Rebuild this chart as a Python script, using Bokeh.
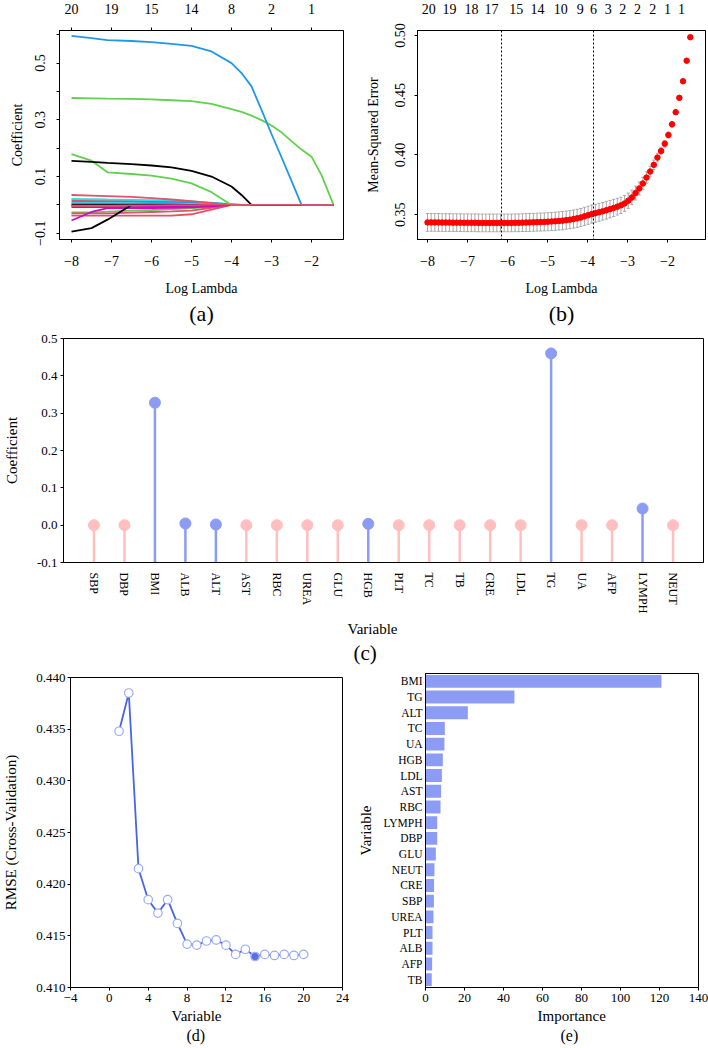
import math
import numpy as np
from bokeh.plotting import figure
from bokeh.models import (Range1d, FactorRange, LinearAxis, FixedTicker,
                          NumeralTickFormatter, Title, Span)
from bokeh.layouts import column, row
from bokeh.embed import file_html
from bokeh.resources import INLINE

FONT = "Liberation Serif"

# ---------------- (a) LASSO coefficient paths ----------------
path_loglam = [-8, -7.5, -7.1, -6.5, -6, -5.5, -5, -4.5, -4, -3.75, -3.5, -3.25,
               -3, -2.75, -2.5, -2.25, -2, -1.75, -1.45]
path_blue_1 = [0.596, 0.588, 0.581, 0.578, 0.574, 0.568, 0.561, 0.541, 0.500, 0.465,
               0.418, 0.335, 0.250, 0.168, 0.085, 0.0, 0.0, 0.0, 0.0]
path_green_1 = [0.377, 0.376, 0.375, 0.374, 0.372, 0.369, 0.366, 0.356, 0.338, 0.328,
                0.315, 0.299, 0.280, 0.256, 0.225, 0.195, 0.170, 0.105, 0.0]
path_green_2 = [0.179, 0.156, 0.115, 0.109, 0.103, 0.093, 0.076, 0.045, 0.0, 0.0,
                0.0, 0.0, 0.0, 0.0, 0.0, 0.0, 0.0, 0.0, 0.0]
path_black_1 = [0.155, 0.152, 0.148, 0.144, 0.139, 0.132, 0.120, 0.100, 0.065, 0.035,
                0.0, 0.0, 0.0, 0.0, 0.0, 0.0, 0.0, 0.0, 0.0]
path_black_2 = [-0.094, -0.082, -0.052, 0.0, 0.0, 0.0, 0.0, 0.0, 0.0, 0.0,
                0.0, 0.0, 0.0, 0.0, 0.0, 0.0, 0.0, 0.0, 0.0]
path_magenta_1 = [-0.055, -0.025, -0.011, -0.011, -0.011, -0.010, -0.009, -0.005, 0.0, 0.0,
                  0.0, 0.0, 0.0, 0.0, 0.0, 0.0, 0.0, 0.0, 0.0]
path_red_1 = [0.035, 0.033, 0.031, 0.028, 0.024, 0.019, 0.013, 0.006, 0.0, 0.0,
              0.0, 0.0, 0.0, 0.0, 0.0, 0.0, 0.0, 0.0, 0.0]
path_red_2 = [-0.030, -0.030, -0.030, -0.027, -0.025, -0.023, -0.020, -0.010, 0.0, 0.0,
              0.0, 0.0, 0.0, 0.0, 0.0, 0.0, 0.0, 0.0, 0.0]
path_red_3 = [-0.038, -0.038, -0.038, -0.038, -0.038, -0.038, -0.033, -0.017, 0.0, 0.0,
              0.0, 0.0, 0.0, 0.0, 0.0, 0.0, 0.0, 0.0, 0.0]
path_red_4 = [0.017, 0.016, 0.015, 0.014, 0.012, 0.010, 0.007, 0.004, 0.0, 0.0,
              0.0, 0.0, 0.0, 0.0, 0.0, 0.0, 0.0, 0.0, 0.0]
path_cyan_1 = [0.021, 0.020, 0.019, 0.018, 0.017, 0.015, 0.012, 0.008, 0.003, 0.0,
               0.0, 0.0, 0.0, 0.0, 0.0, 0.0, 0.0, 0.0, 0.0]
path_blue_2 = [0.011, 0.011, 0.011, 0.011, 0.010, 0.010, 0.009, 0.006, 0.002, 0.0,
               0.0, 0.0, 0.0, 0.0, 0.0, 0.0, 0.0, 0.0, 0.0]
path_cyan_2 = [0.005, 0.005, 0.005, 0.005, 0.004, 0.004, 0.003, 0.002, 0.0, 0.0,
               0.0, 0.0, 0.0, 0.0, 0.0, 0.0, 0.0, 0.0, 0.0]
path_green_3 = [-0.026, -0.026, -0.024, -0.020, -0.018, -0.015, -0.012, -0.006, 0.0, 0.0,
                0.0, 0.0, 0.0, 0.0, 0.0, 0.0, 0.0, 0.0, 0.0]
path_magenta_2 = [-0.008, -0.008, -0.008, -0.008, -0.007, -0.006, -0.004, -0.002, 0.0, 0.0,
                  0.0, 0.0, 0.0, 0.0, 0.0, 0.0, 0.0, 0.0, 0.0]
path_black_3 = [0.001, 0.001, 0.001, 0.001, 0.001, 0.001, 0.0, 0.0, 0.0, 0.0,
                0.0, 0.0, 0.0, 0.0, 0.0, 0.0, 0.0, 0.0, 0.0]
path_gray_1 = [-0.004, -0.004, -0.004, -0.003, -0.003, -0.002, -0.002, -0.001, 0.0, 0.0,
               0.0, 0.0, 0.0, 0.0, 0.0, 0.0, 0.0, 0.0, 0.0]
path_red_0 = [-0.003, -0.003, -0.003, -0.002, -0.002, -0.001, -0.001, 0.0, 0.0, 0.0,
              0.0, 0.0, 0.0, 0.0, 0.0, 0.0, 0.0, 0.0, 0.0]
a_top_ticks = [-8, -7, -6, -5, -4, -3, -2]
a_top_labels = ["20", "19", "15", "14", "8", "2", "1"]

R_BLACK, R_RED, R_GREEN, R_BLUE = "#000000", "#DF536B", "#61D04F", "#2297E6"
R_CYAN, R_MAGENTA, R_GRAY = "#28E2E5", "#CD0BBC", "#9E9E9E"

# ---------------- (b) cross-validation curve ----------------
cv_loglam_first = -8.0
cv_loglam_last = -1.43
cv_mse = [0.3435, 0.3435, 0.3435, 0.3435, 0.3434, 0.3434, 0.3434, 0.3433, 0.3433, 0.3433,
          0.3432, 0.3432, 0.3432, 0.3432, 0.3431, 0.3431, 0.3431, 0.3431, 0.3431, 0.3431,
          0.3431, 0.3431, 0.3431, 0.3431, 0.3432, 0.3432, 0.3433, 0.3434, 0.3435, 0.3436,
          0.3437, 0.3438, 0.3439, 0.3441, 0.3443, 0.3445, 0.3447, 0.3450, 0.3454, 0.3458,
          0.3463, 0.3469, 0.3476, 0.3486, 0.3495, 0.3505, 0.3512, 0.3520, 0.3528, 0.3537,
          0.3546, 0.3556, 0.3567, 0.3578, 0.3594, 0.3617, 0.3644, 0.3681, 0.3719, 0.3761,
          0.3811, 0.3861, 0.3917, 0.3978, 0.4033, 0.4094, 0.4167, 0.4256, 0.4358, 0.4478,
          0.4617, 0.4789, 0.4986]
cv_se = [0.0074, 0.0074, 0.0074, 0.0074, 0.0074, 0.0074, 0.0074, 0.0074, 0.0074, 0.0074,
         0.0074, 0.0074, 0.0074, 0.0074, 0.0074, 0.0074, 0.0074, 0.0074, 0.0074, 0.0074,
         0.0074, 0.0074, 0.0074, 0.0074, 0.0074, 0.0074, 0.0074, 0.0075, 0.0075, 0.0075,
         0.0075, 0.0075, 0.0075, 0.0076, 0.0076, 0.0076, 0.0076, 0.0076, 0.0076, 0.0076,
         0.0076, 0.0076, 0.0076, 0.0076, 0.0076, 0.0076, 0.0075, 0.0075, 0.0074, 0.0074,
         0.0073, 0.0072, 0.0070, 0.0068, 0.0066, 0.0064, 0.0061, 0.0058, 0.0055, 0.0052,
         0.0048, 0.0044, 0.0040, 0.0036, 0.0032, 0.0028, 0.0025, 0.0022, 0.0019, 0.0016,
         0.0013, 0.0011, 0.0009]
lambda_min_log = -6.15
lambda_1se_log = -3.85
b_top_ticks = [-7.97, -7.45, -6.9, -6.4, -5.78, -5.25, -4.67, -4.18, -3.85, -3.48,
               -3.12, -2.75, -2.37, -2.0, -1.65]
b_top_labels = ["20", "19", "18", "17", "15", "14", "10", "9", "6", "3",
                "2", "2", "2", "1", "1"]

# ---------------- (c) lollipop of coefficients ----------------
coef_vars = ["SBP", "DBP", "BMI", "ALB", "ALT", "AST", "RBC", "UREA", "GLU", "HGB",
             "PLT", "TC", "TB", "CRE", "LDL", "TG", "UA", "AFP", "LYMPH", "NEUT"]
coef_vals = [0.0, 0.0, 0.328, 0.0045, 0.0018, 0.0, 0.0, 0.0, 0.0, 0.0036,
             0.0, 0.0, 0.0, 0.0, 0.0, 0.46, 0.0, 0.0, 0.0446, 0.0]

# ---------------- (d) RFE RMSE ----------------
rfe_nvars = [1, 2, 3, 4, 5, 6, 7, 8, 9, 10, 11, 12, 13, 14, 15, 16, 17, 18, 19, 20]
rfe_rmse = [0.4348, 0.4385, 0.4215, 0.4185, 0.4172, 0.4185, 0.4162, 0.4142, 0.4141, 0.4145,
            0.4146, 0.4141, 0.4132, 0.4137, 0.4130, 0.4132, 0.4131, 0.4132, 0.4131, 0.4132]
rfe_best = 15

# ---------------- (e) variable importance ----------------
imp_vars = ["BMI", "TG", "ALT", "TC", "UA", "HGB", "LDL", "AST", "RBC", "LYMPH",
            "DBP", "GLU", "NEUT", "CRE", "SBP", "UREA", "PLT", "ALB", "AFP", "TB"]
imp_vals = [121.0, 45.6, 21.7, 9.9, 9.7, 8.9, 8.4, 8.0, 7.7, 6.0,
            6.0, 5.3, 4.6, 4.4, 4.3, 4.1, 3.6, 3.6, 3.4, 3.2]

SEL_BLUE = "#8C9CF5"
PINK = "#FFBFBF"


def style(p, tick_size):
    p.outline_line_color = "black"
    p.outline_line_width = 1
    p.outline_line_alpha = 1
    p.xgrid.visible = False
    p.ygrid.visible = False
    p.background_fill_color = "white"
    p.border_fill_color = "white"
    for ax in p.axis:
        ax.major_label_text_font = FONT
        ax.major_label_text_font_size = tick_size
        ax.major_label_text_color = "black"
        ax.axis_label_text_font = FONT
        ax.axis_label_text_font_style = "normal"
        ax.axis_label_text_color = "black"
        ax.minor_tick_line_color = None
        ax.major_tick_in = 0
        ax.major_tick_out = 3
        ax.major_tick_line_color = "black"
        ax.axis_line_color = "black"


def caption(p, text, size, standoff=2, align="center", offset=0):
    t = Title(text=text, align=align, offset=offset, standoff=standoff,
              text_font=FONT, text_font_size=size, text_font_style="normal",
              text_color="black")
    p.add_layout(t, "below")


# ================= panel (a) =================
pa = figure(width=354, height=331, x_range=Range1d(-8.3, -1.2), y_range=Range1d(-0.122, 0.615),
            output_backend="svg", toolbar_location=None,
            min_border_left=59, min_border_right=11, min_border_top=29, min_border_bottom=92)
a_paths = [(path_red_4, R_RED), (path_cyan_1, R_CYAN), (path_blue_2, R_BLUE),
           (path_cyan_2, R_CYAN), (path_gray_1, R_GRAY), (path_black_3, R_BLACK),
           (path_green_3, R_GREEN), (path_magenta_2, R_MAGENTA), (path_red_2, R_RED),
           (path_red_3, R_RED), (path_red_1, R_RED), (path_magenta_1, R_MAGENTA),
           (path_black_2, R_BLACK), (path_green_2, R_GREEN), (path_black_1, R_BLACK),
           (path_green_1, R_GREEN), (path_blue_1, R_BLUE), (path_red_0, R_RED)]
for vals, col in a_paths:
    pa.line(path_loglam, vals, line_color=col, line_width=1.8)
a_bottom = pa.below[0]
a_left = pa.left[0]
a_bottom.ticker = FixedTicker(ticks=[-8, -7, -6, -5, -4, -3, -2])
a_bottom.axis_label = "Log Lambda"
a_left.ticker = FixedTicker(ticks=[-0.1, 0.0, 0.1, 0.2, 0.3, 0.4, 0.5, 0.6])
a_left.major_label_overrides = {0.0: "", 0.2: "", 0.4: "", 0.6: ""}
a_left.axis_label = "Coefficient"
a_left.major_label_orientation = "vertical"
a_top = LinearAxis(ticker=FixedTicker(ticks=a_top_ticks),
                   major_label_overrides=dict(zip(a_top_ticks, a_top_labels)))
pa.add_layout(a_top, "above")
style(pa, "14px")
a_top.major_label_standoff = 14
a_bottom.axis_label_text_font_size = "14px"
a_left.axis_label_text_font_size = "14px"
a_bottom.major_label_standoff = 13
a_bottom.axis_label_standoff = 12
a_left.major_label_standoff = 11
a_left.axis_label_standoff = 8
caption(pa, "(a)", "22px", standoff=0)

# ================= panel (b) =================
pb = figure(width=354, height=331, x_range=Range1d(-8.25, -1.05), y_range=Range1d(0.3292, 0.5042),
            output_backend="svg", toolbar_location=None,
            min_border_left=63, min_border_right=3, min_border_top=29, min_border_bottom=92)
cv_x = np.linspace(cv_loglam_first, cv_loglam_last, len(cv_mse))
mse = np.array(cv_mse)
se = np.array(cv_se)
cap = 0.04
pb.segment(x0=cv_x, y0=mse - se, x1=cv_x, y1=mse + se, line_color="#A8A8A8", line_width=1)
pb.segment(x0=cv_x - cap, y0=mse - se, x1=cv_x + cap, y1=mse - se, line_color="#A8A8A8", line_width=1)
pb.segment(x0=cv_x - cap, y0=mse + se, x1=cv_x + cap, y1=mse + se, line_color="#A8A8A8", line_width=1)
pb.scatter(cv_x, cv_mse, size=5.5, fill_color="red", line_color="red")
for loc in (lambda_min_log, lambda_1se_log):
    pb.add_layout(Span(location=loc, dimension="height", line_color="black",
                       line_dash="2 2", line_width=1))
b_bottom = pb.below[0]
b_left = pb.left[0]
b_bottom.ticker = FixedTicker(ticks=[-8, -7, -6, -5, -4, -3, -2])
b_bottom.axis_label = "Log Lambda"
b_left.ticker = FixedTicker(ticks=[0.35, 0.40, 0.45, 0.50])
b_left.formatter = NumeralTickFormatter(format="0.00")
b_left.axis_label = "Mean-Squared Error"
b_left.major_label_orientation = "vertical"
b_top = LinearAxis(ticker=FixedTicker(ticks=b_top_ticks),
                   major_label_overrides=dict(zip(b_top_ticks, b_top_labels)))
pb.add_layout(b_top, "above")
style(pb, "14px")
b_top.major_tick_out = 0
b_top.major_label_standoff = 17
b_bottom.axis_label_text_font_size = "14px"
b_left.axis_label_text_font_size = "14px"
b_bottom.major_label_standoff = 13
b_bottom.axis_label_standoff = 12
b_left.major_label_standoff = 9
b_left.axis_label_standoff = 12
caption(pb, "(b)", "22px", standoff=0)

# ================= panel (c) =================
pc = figure(width=708, height=335, x_range=FactorRange(*coef_vars, range_padding=0.05),
            y_range=Range1d(-0.1, 0.5),
            output_backend="svg", toolbar_location=None,
            min_border_left=56, min_border_right=5, min_border_top=7, min_border_bottom=104)
c_cols = [SEL_BLUE if v != 0 else PINK for v in coef_vals]
c_base = [pc.y_range.start] * len(coef_vars)
pc.segment(x0=coef_vars, y0=c_base, x1=coef_vars, y1=coef_vals, line_color=c_cols, line_width=2.5)
pc.scatter(coef_vars, coef_vals, size=11, fill_color=c_cols, line_color=c_cols)
c_bottom = pc.below[0]
c_left = pc.left[0]
c_left.ticker = FixedTicker(ticks=[-0.1, 0.0, 0.1, 0.2, 0.3, 0.4, 0.5])
c_left.formatter = NumeralTickFormatter(format="0.0")
c_left.axis_label = "Coefficient"
style(pc, "13px")
c_bottom.major_tick_out = 0
c_bottom.major_label_orientation = -math.pi / 2
c_bottom.major_label_text_font_size = "12px"
c_bottom.major_label_standoff = 10
c_left.major_label_standoff = 3
c_left.axis_label_text_font_size = "15px"
c_left.axis_label_standoff = 14
caption(pc, "Variable", "15px", standoff=4, align="left", offset=284)
caption(pc, "(c)", "21px", standoff=0, align="left", offset=290)

# ================= panel (d) =================
pd_ = figure(width=354, height=380, x_range=Range1d(-4, 24), y_range=Range1d(0.410, 0.440),
             output_backend="svg", toolbar_location=None,
             min_border_left=67, min_border_right=12, min_border_top=11, min_border_bottom=59)
pd_.line(rfe_nvars, rfe_rmse, line_color="#4A64E6", line_width=1.8)
pd_.scatter(rfe_nvars, rfe_rmse, size=8.5, fill_color="white", line_color="#9AAAF5", line_width=1.2)
pd_.scatter([rfe_best], [rfe_rmse[rfe_nvars.index(rfe_best)]], size=6.5,
            fill_color="#5A70E6", line_color="#5A70E6")
d_bottom = pd_.below[0]
d_left = pd_.left[0]
d_bottom.ticker = FixedTicker(ticks=[-4, 0, 4, 8, 12, 16, 20, 24])
d_left.ticker = FixedTicker(ticks=[0.410, 0.415, 0.420, 0.425, 0.430, 0.435, 0.440])
d_left.formatter = NumeralTickFormatter(format="0.000")
d_left.axis_label = "RMSE (Cross-Validation)"
style(pd_, "13px")
d_bottom.major_label_standoff = 3
d_left.major_label_standoff = 2
d_left.axis_label_text_font_size = "15px"
d_left.axis_label_standoff = 14
caption(pd_, "Variable", "15px", standoff=2, align="left", offset=101)
caption(pd_, "(d)", "16px", standoff=0, align="left", offset=116)

# ================= panel (e) =================
pe = figure(width=354, height=380, x_range=Range1d(0, 140),
            y_range=FactorRange(*list(reversed(imp_vars)), range_padding=0),
            output_backend="svg", toolbar_location=None,
            min_border_left=71, min_border_right=10, min_border_top=7, min_border_bottom=59)
pe.hbar(y=imp_vars, right=imp_vals, left=0, height=0.82, fill_color=SEL_BLUE, line_color=None)
e_bottom = pe.below[0]
e_left = pe.left[0]
e_bottom.ticker = FixedTicker(ticks=[0, 20, 40, 60, 80, 100, 120, 140])
e_left.axis_label = "Variable"
style(pe, "13px")
e_left.major_tick_out = 0
e_left.major_label_text_font_size = "11.5px"
e_left.major_label_standoff = 3
e_left.axis_label_text_font_size = "15px"
e_left.axis_label_standoff = 6
e_bottom.major_label_standoff = 3
caption(pe, "Importance", "15px", standoff=2, align="left", offset=112)
caption(pe, "(e)", "16px", standoff=0, align="left", offset=135)

layout = column(row(column(pa), column(pb)), pc, row(column(pd_), column(pe)))
open("out.html", "w").write(file_html(layout, INLINE))
